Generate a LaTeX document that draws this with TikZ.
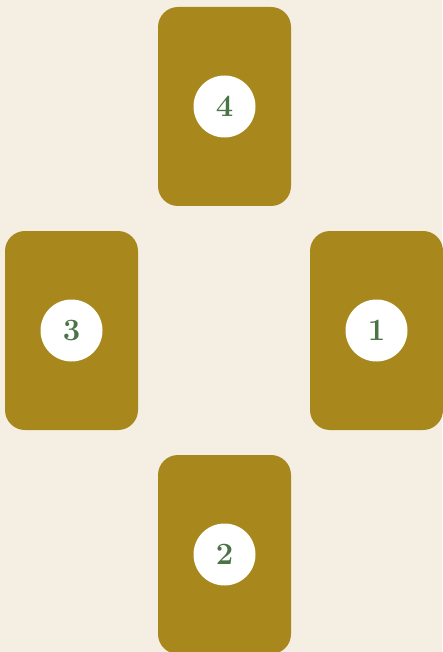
\documentclass[tikz,border=0pt]{standalone}
\usepackage{fontspec}
\definecolor{fundo}{HTML}{F5EFE3}
\definecolor{ouro}{HTML}{A8871D}
\definecolor{verde}{HTML}{4A7346}
\begin{document}
\begin{tikzpicture}[x=1pt, y=-1pt,
    carta/.style={rectangle, fill=ouro, rounded corners=20pt, inner sep=0pt,
                  minimum width=133pt, minimum height=199pt},
    numero/.style={circle, fill=white, inner sep=0pt, minimum size=62pt,
                   text=verde, font=\fontsize{31}{33}\selectfont\bfseries}]
    % Fundo e limites
    \fill[fundo] (0,0) rectangle (442,652);
    \useasboundingbox (0,0) rectangle (442,652);

    % Cartas
    \node[carta] (c4) at (224.5,106.5) {};
    \node[carta] (c3) at (71.5,330.5) {};
    \node[carta] (c1) at (376.5,330.5) {};
    \node[carta] (c2) at (224.5,554.5) {};

    % Numeros das cartas
    \node[numero] (n4) at (c4.center) {4};
    \node[numero] (n3) at (c3.center) {3};
    \node[numero] (n1) at (c1.center) {1};
    \node[numero] (n2) at (c2.center) {2};
  \end{tikzpicture}
\end{document}
